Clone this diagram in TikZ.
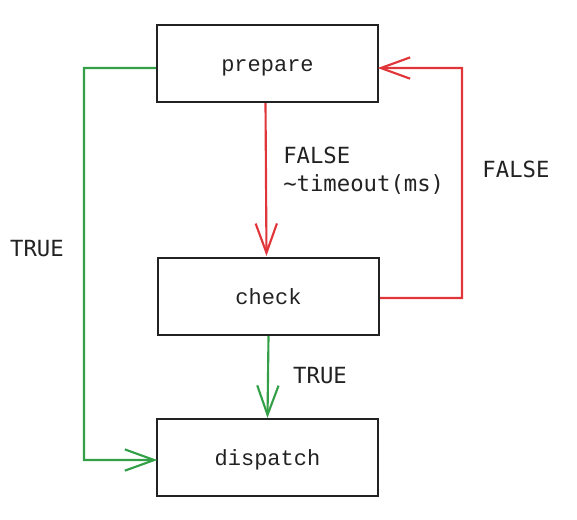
\documentclass[tikz,border=0pt]{standalone}
\usepackage{fontspec}
\setmonofont{Liberation Mono}
\newfontfamily\edgefont{DejaVu Sans Mono}
\usetikzlibrary{arrows.meta}
\definecolor{edgered}{HTML}{E0363A}
\definecolor{edgegreen}{HTML}{33A048}
\definecolor{ink}{HTML}{222222}

\begin{document}
\begin{tikzpicture}[x=0.75pt,y=-0.75pt]
		\tikzset{> = {Straight Barb[length=22pt,width=16pt,line width=1.6pt]}}
		\tikzset{stepbox/.style = {draw = ink,line width = 1.6pt,minimum width = 165.75pt,minimum height = 57.75pt,inner sep = 0pt,text height = 15.25pt,text depth = 4pt,text = ink,font = \ttfamily\fontsize{16.5}{20}\selectfont}}
		\tikzset{edgelabel/.style = {text = ink,inner sep = 0pt,font = \edgefont\fontsize{16.7}{21}\selectfont}}
		\useasboundingbox (0,0) rectangle (577,519);
		\node[stepbox] (prepare) at (267.5,63.5){prepare};
		\node[stepbox] (check) at (268.5,296.5){check};
		\node[stepbox] (dispatch) at (267.5,457.5){dispatch};
		\coordinate (leftcorner) at (84,460);
		\coordinate (rightcorner) at (462,298);
		% red loop
		\draw [edgered,line width = 1.6pt,->] ([xshift=-1.5pt]prepare.south) -- ([xshift=-1.5pt,yshift=0.75pt]check.north);
		\draw [edgered,line width = 1.6pt,->] ([yshift=-1.1pt]check.east) -- (rightcorner) |- ([xshift=-1pt,yshift=-3.4pt]prepare.east);
		% green exits
		\draw [edgegreen,line width = 1.6pt,->] ([yshift=-3.4pt]prepare.west) -| (leftcorner) -- ([xshift=1pt,yshift=-1.9pt]dispatch.west);
		\draw [edgegreen,line width = 1.6pt,->] (check.south) -- (dispatch.north);
		\node[edgelabel,anchor = west,align = left] (falsewait) at (283,171){FALSE\\\textasciitilde timeout(ms)};
		\node[edgelabel] (falseloop) at (516,169){FALSE};
		\node[edgelabel] (trueleft) at (37,249){TRUE};
		\node[edgelabel] (truedown) at (320,376){TRUE};
	\end{tikzpicture}
\end{document}
